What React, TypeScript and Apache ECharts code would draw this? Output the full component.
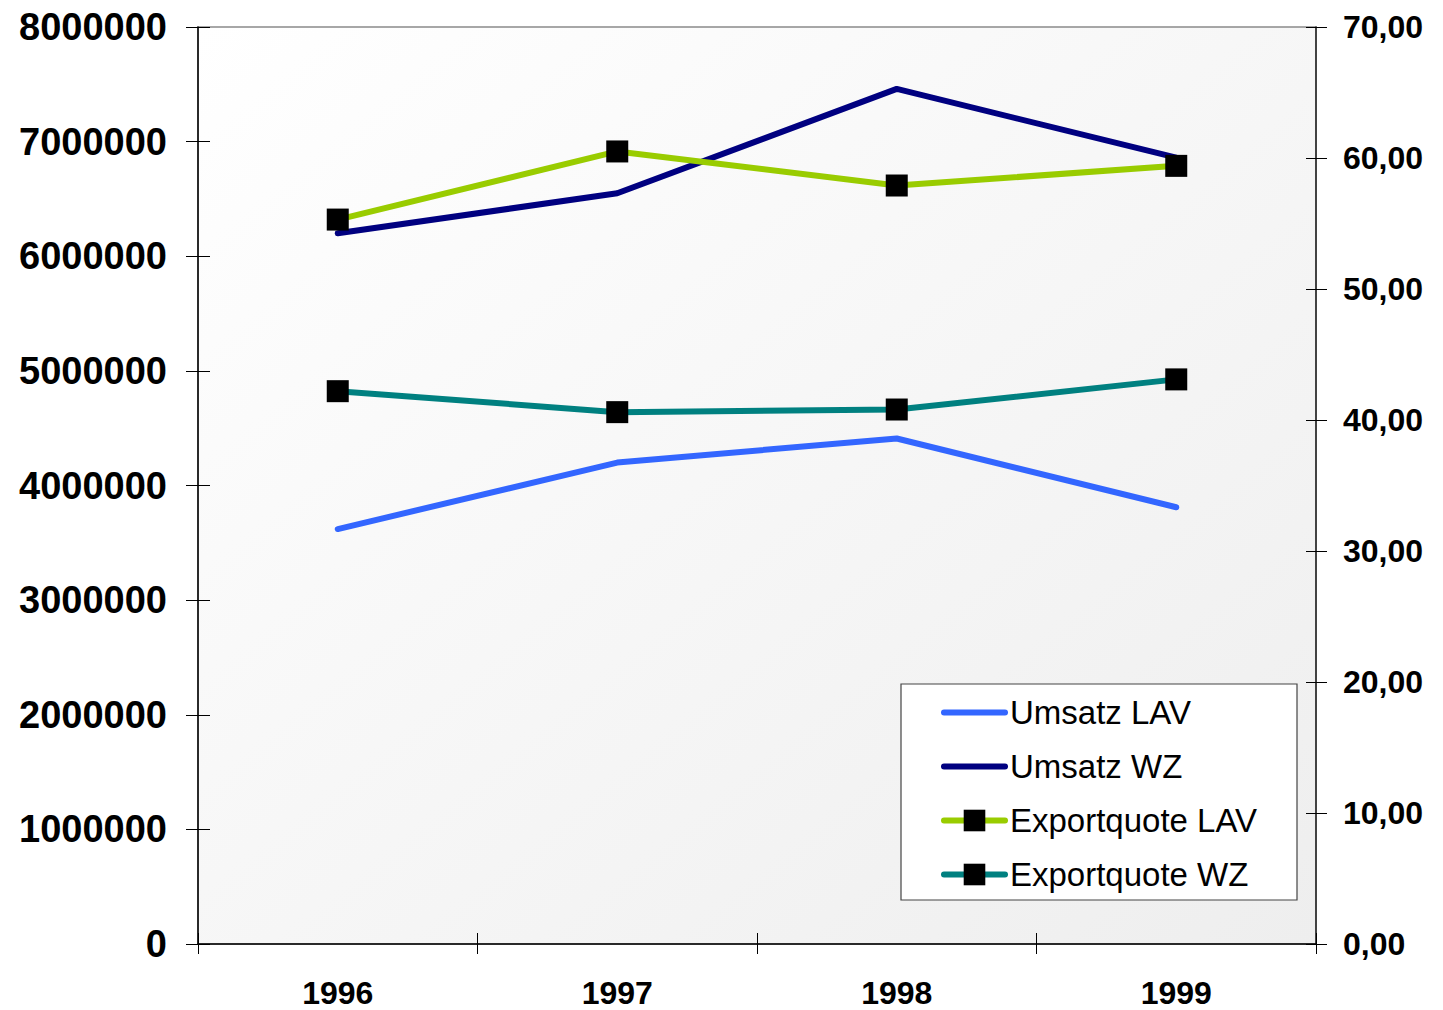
import React, { useEffect, useRef } from "react";
import * as echarts from "echarts";

const years = ["1996", "1997", "1998", "1999"];
const umsatzLAV = [3620000, 4200000, 4410000, 3810000];
const umsatzWZ = [6200000, 6550000, 7460000, 6860000];
const exportLAV = [55.3, 60.5, 57.9, 59.4];
const exportWZ = [42.2, 40.6, 40.8, 43.1];

const FONT = "'Liberation Sans', Arial, sans-serif";

export default function App() {
  const ref = useRef<HTMLDivElement>(null);
  useEffect(() => {
    const chart = echarts.init(ref.current!, null, { renderer: "svg" });
    const leftAxisBase = {
      type: "value",
      min: 0,
      max: 8000000,
      interval: 1000000,
      splitLine: { show: false },
    };
    const rightAxisBase = {
      type: "value",
      min: 0,
      max: 70,
      interval: 10,
      splitLine: { show: false },
    };
    chart.setOption({
      animation: false,
      backgroundColor: "#ffffff",
      grid: {
        left: 198,
        right: 127,
        top: 27,
        bottom: 66,
        show: true,
        borderColor: "#8a8a8a",
        borderWidth: 1.5,
        backgroundColor: {
          type: "linear",
          x: 0,
          y: 0,
          x2: 1,
          y2: 1,
          colorStops: [
            { offset: 0, color: "#ffffff" },
            { offset: 1, color: "#eeeeee" },
          ],
        },
      },
      xAxis: [
        {
          type: "category",
          data: years,
          boundaryGap: true,
          axisLine: { show: true, lineStyle: { color: "#000", width: 1.5 } },
          axisTick: { show: true, inside: false, length: 10, lineStyle: { color: "#000" } },
          axisLabel: { fontSize: 32, fontWeight: "bold", color: "#000", fontFamily: FONT, margin: 33 },
        },
        {
          type: "category",
          data: years,
          position: "bottom",
          boundaryGap: true,
          axisLine: { show: false },
          axisTick: { show: true, inside: true, length: 11, lineStyle: { color: "#000" } },
          axisLabel: { show: false },
        },
      ],
      yAxis: [
        {
          ...leftAxisBase,
          position: "left",
          axisLine: { show: true, lineStyle: { color: "#000", width: 1.5 } },
          axisTick: { show: true, inside: false, length: 12, lineStyle: { color: "#000" } },
          axisLabel: {
            fontSize: 38,
            fontWeight: "bold",
            color: "#000",
            fontFamily: FONT,
            margin: 31,
            formatter: (v: number) => String(v),
          },
        },
        {
          ...rightAxisBase,
          position: "right",
          axisLine: { show: true, lineStyle: { color: "#222", width: 1.5 } },
          axisTick: { show: true, inside: false, length: 11, lineStyle: { color: "#000" } },
          axisLabel: {
            fontSize: 32,
            fontWeight: "bold",
            color: "#000",
            fontFamily: FONT,
            margin: 27,
            formatter: (v: number) => v.toFixed(2).replace(".", ","),
          },
        },
        {
          ...leftAxisBase,
          position: "left",
          axisLine: { show: false },
          axisTick: { show: true, inside: true, length: 12, lineStyle: { color: "#000" } },
          axisLabel: { show: false },
        },
        {
          ...rightAxisBase,
          position: "right",
          axisLine: { show: false },
          axisTick: { show: true, inside: true, length: 10, lineStyle: { color: "#000" } },
          axisLabel: { show: false },
        },
      ],
      graphic: [
        {
          type: "rect",
          z: 3,
          shape: { x: 901, y: 684, width: 396, height: 216 },
          style: { fill: "#ffffff", stroke: "#444", lineWidth: 1.2 },
        },
      ],
      legend: {
        z: 5,
        orient: "vertical",
        left: 941,
        top: 696,
        padding: 0,
        itemWidth: 61,
        itemHeight: 27,
        itemGap: 21,
        lineStyle: { width: 6, cap: "round" },
        textStyle: { fontSize: 33, color: "#000", fontFamily: FONT },
        data: [
          { name: "Umsatz LAV", itemStyle: { opacity: 0 } },
          { name: "Umsatz WZ", itemStyle: { opacity: 0 } },
          { name: "Exportquote LAV" },
          { name: "Exportquote WZ" },
        ],
      },
      series: [
        {
          name: "Umsatz LAV",
          type: "line",
          yAxisIndex: 0,
          data: umsatzLAV,
          symbol: "none",
          lineStyle: { color: "#3366ff", width: 6, cap: "round" },
          itemStyle: { color: "#3366ff" },
        },
        {
          name: "Umsatz WZ",
          type: "line",
          yAxisIndex: 0,
          data: umsatzWZ,
          symbol: "none",
          lineStyle: { color: "#000080", width: 6, cap: "round" },
          itemStyle: { color: "#000080" },
        },
        {
          name: "Exportquote LAV",
          type: "line",
          yAxisIndex: 1,
          data: exportLAV,
          symbol: "rect",
          symbolSize: 22,
          lineStyle: { color: "#99cc00", width: 6, cap: "round" },
          itemStyle: { color: "#000000" },
        },
        {
          name: "Exportquote WZ",
          type: "line",
          yAxisIndex: 1,
          data: exportWZ,
          symbol: "rect",
          symbolSize: 22,
          lineStyle: { color: "#008080", width: 6, cap: "round" },
          itemStyle: { color: "#000000" },
        },
      ],
    });
    return () => chart.dispose();
  }, []);
  return (
    <div
      ref={ref}
      style={{ position: "absolute", left: 0, top: 0, width: 1443, height: 1010 }}
    />
  );
}
